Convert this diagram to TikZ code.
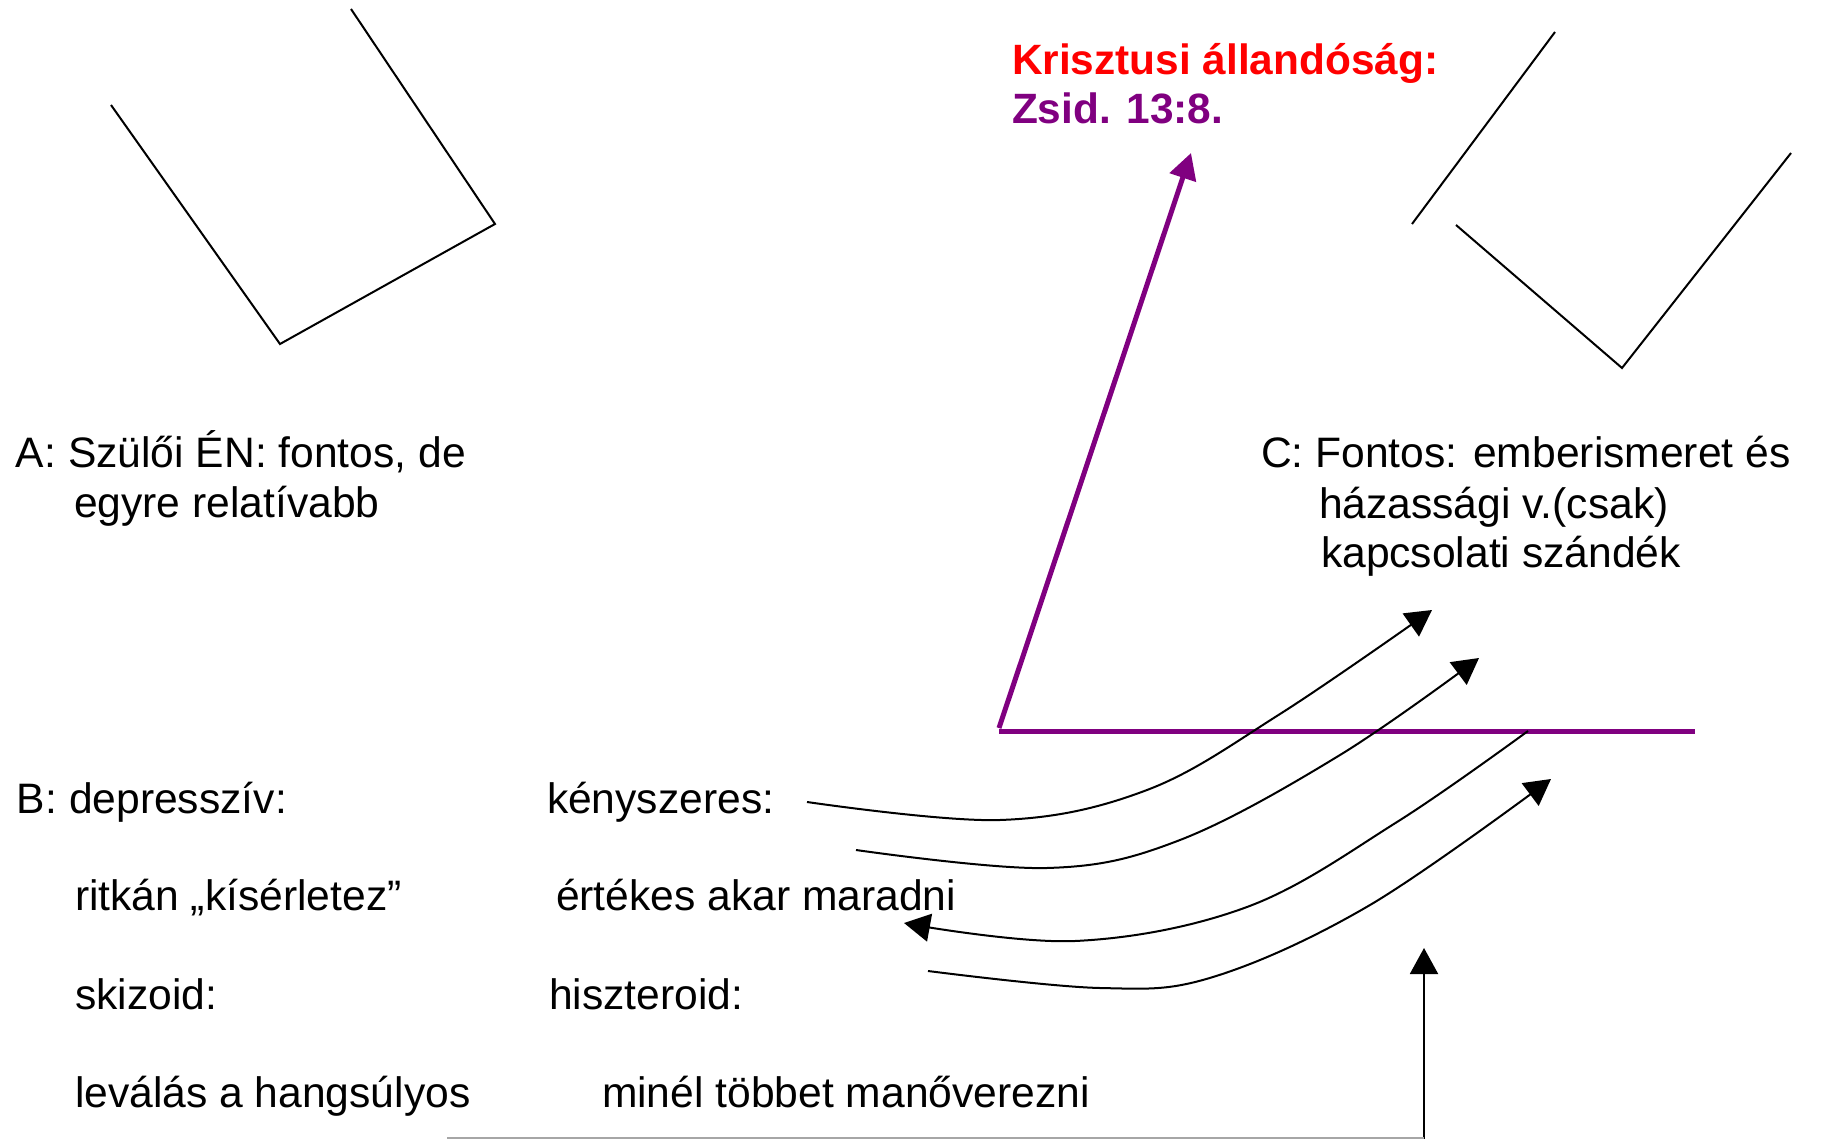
\documentclass[tikz,border=0pt]{standalone}
\usepackage{fontspec}
\setmainfont{Liberation Sans}
\usetikzlibrary{arrows.meta}
\definecolor{lila}{HTML}{800080}

\begin{document}
\begin{tikzpicture}[x=0.5pt, y=-0.5pt, line width=1pt,
    szoveg/.style={anchor=base west, inner sep=0pt, font=\fontsize{21.3}{26}\selectfont},
    cim/.style={anchor=base west, inner sep=0pt, font=\fontsize{21.2}{26}\selectfont\bfseries},
    nyil/.style={-{Triangle[length=13pt, width=14pt]}},
    lilanyil/.style={lila, line width=2.5pt, -{Triangle[length=13pt, width=13.5pt]}}]
        \useasboundingbox (0,0) rectangle (1836,1139);

        % Shapes at the top
        \draw (111,105) -- (280,344) -- (495,224) -- (351,9);
        \draw (1555,32) -- (1412,224);
        \draw (1456,225) -- (1622,368) -- (1791,153);

        % Title
        \node[cim, red] (krisztus) at (1011,75) {Krisztusi állandóság:};
        \node[cim, lila] (zsid) at (1011,124) {Zsid. 13:8.};

        % Purple axis
        \coordinate (sarok) at (999,728);
        \coordinate (csucs) at (1191,153);
        \coordinate (tengelyveg) at (1695,731);
        \draw[lilanyil] (sarok) -- (csucs);
        \draw[lila, line width=2.5pt] (999,731) -- (tengelyveg);

        % Texts
        \node[szoveg] (szulo1) at (15,467) {A: Szülői ÉN: fontos, de};
        \node[szoveg] (szulo2) at (73,517) {egyre relatívabb};
        \node[szoveg] (ember1) at (1260,467) {C: Fontos: emberismeret és};
        \node[szoveg] (ember2) at (1318,518) {házassági v.(csak)};
        \node[szoveg] (ember3) at (1320,567) {kapcsolati szándék};
        \node[szoveg] (depr) at (16,813) {B: depresszív:};
        \node[szoveg] (kenysz) at (546,813) {kényszeres:};
        \node[szoveg] (ritkan) at (74,910) {ritkán „kísérletez”};
        \node[szoveg] (ertekes) at (555,910) {értékes akar maradni};
        \node[szoveg] (skiz) at (74,1009) {skizoid:};
        \node[szoveg] (hiszt) at (548,1009) {hiszteroid:};
        \node[szoveg] (levalas) at (74,1107) {leválás a hangsúlyos};
        \node[szoveg] (manover) at (601,1107) {minél többet manőverezni};

        % Curved arrows
        \draw[nyil] plot[smooth, tension=0.6] coordinates {(807,802) (1000,820) (1147,790) (1280,714) (1432,610)};
        \draw[nyil] plot[smooth, tension=0.6] coordinates {(856,850) (1047,868) (1180,840) (1340,755) (1479,658)};
        \draw[nyil] plot[smooth, tension=0.6] coordinates {(1528,731) (1397,822) (1247,907) (1075,941) (904,923)};
        \draw[nyil] plot[smooth, tension=0.6] coordinates {(928,971) (1100,988) (1213,977) (1370,905) (1551,779)};

        % Bottom
        \coordinate (lent) at (1424,1139);
        \coordinate (fent) at (1424,948);
        \draw[nyil] (lent) -- (fent);
        \draw[gray!70] (447,1138) -- (1424,1138);
\end{tikzpicture}
\end{document}
